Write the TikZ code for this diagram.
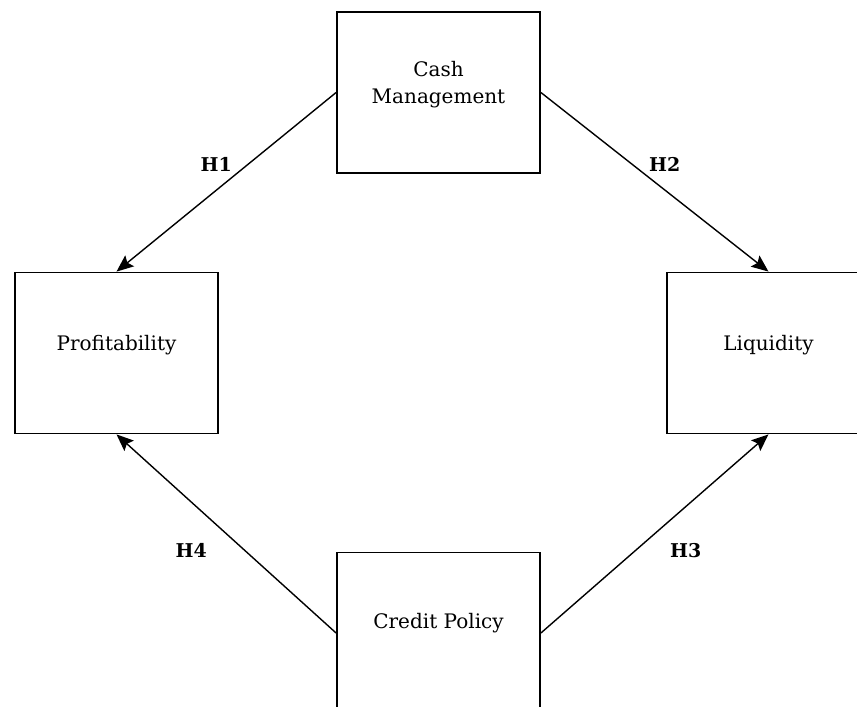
\documentclass[tikz,border=0pt]{standalone}
\usepackage{fontspec}
\setmainfont{DejaVu Serif}
\usetikzlibrary{arrows.meta}

\begin{document}
\begin{tikzpicture}[x=1pt,y=-1pt,
    every node/.style={font=\fontsize{20}{27}\selectfont},
    box/.style={draw,line width=1.8pt,minimum width=203pt,minimum height=161pt,inner sep=0pt},
    txt/.style={align=center,yshift=8pt},
    hyp/.style={font=\fontsize{19}{22}\selectfont\bfseries},
    link/.style={-{Stealth[length=17pt,width=14pt,inset=3pt]},line width=1.4pt}]
                \useasboundingbox (0,0) rectangle (857,707);
                \clip (0,0) rectangle (857,707);

                \node[box] (cm) at (438.5,92.5) {};
                \node[box] (pr) at (116.5,353) {};
                \node[box] (lq) at (768.5,353) {};
                \node[box] (cp) at (438.5,633) {};

                \node[txt] (cmt) at (cm) {Cash\\Management};
                \node[txt] (prt) at (pr) {Profitability};
                \node[txt] (lqt) at (lq) {Liquidity};
                \node[txt,yshift=2pt] (cpt) at (cp) {Credit Policy};

                \draw[link] (cm.west)--(pr.north) node[midway,hyp,xshift=-10pt,yshift=18pt] {H1};
                \draw[link] (cm.east)--(lq.north) node[midway,hyp,xshift=10pt,yshift=18pt] {H2};
                \draw[link] (cp.east)--(lq.south) node[midway,hyp,xshift=31pt,yshift=-17pt] {H3};
                \draw[link] (cp.west)--(pr.south) node[midway,hyp,xshift=-35pt,yshift=-17pt] {H4};
            \end{tikzpicture}
\end{document}
